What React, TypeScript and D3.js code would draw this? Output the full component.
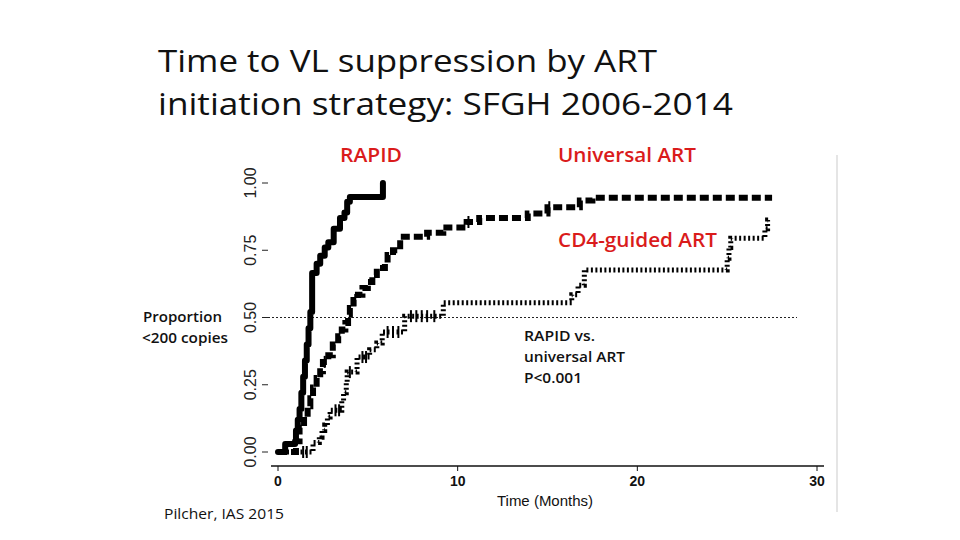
import React from "react";
import * as d3 from "d3";

// ---- data (time in months, cumulative proportion suppressed) ----
const rapidSteps: [number, number][] = [
  [0, 0], [0.4, 0.03], [0.95, 0.04], [1.0, 0.08], [1.1, 0.12], [1.2, 0.16], [1.3, 0.22],
  [1.4, 0.28], [1.5, 0.34], [1.6, 0.4], [1.7, 0.46], [1.8, 0.52], [1.9, 0.665],
  [2.15, 0.7], [2.35, 0.73], [2.6, 0.76], [2.8, 0.78], [3.1, 0.83], [3.45, 0.87],
  [3.7, 0.89], [3.85, 0.93], [4.0, 0.948], [5.84, 1.0],
];
const rapidEnd = 5.84;

const universalSteps: [number, number][] = [
  [0, 0], [1.0, 0.04], [1.2, 0.09], [1.45, 0.13], [1.65, 0.17], [1.8, 0.2], [1.95, 0.24],
  [2.15, 0.275], [2.35, 0.3], [2.5, 0.335], [2.8, 0.36], [3.05, 0.4], [3.35, 0.43],
  [3.55, 0.455], [3.75, 0.48], [3.9, 0.51], [4.0, 0.535], [4.2, 0.565], [4.45, 0.585],
  [4.7, 0.61], [5.0, 0.632], [5.25, 0.658], [5.5, 0.684], [5.95, 0.703], [6.1, 0.732],
  [6.4, 0.75], [6.8, 0.8], [8.3, 0.815], [9.2, 0.835], [10.5, 0.855], [11.2, 0.87],
  [13.9, 0.887], [15.0, 0.91], [16.8, 0.935], [17.5, 0.945],
];
const universalEnd = 27.5;

const cd4Steps: [number, number][] = [
  [0, 0], [1.95, 0.035], [2.3, 0.055], [2.45, 0.08], [2.6, 0.1], [2.75, 0.13], [2.9, 0.155],
  [3.55, 0.19], [3.65, 0.22], [3.8, 0.26], [3.85, 0.297], [4.4, 0.353], [5.1, 0.38],
  [5.5, 0.405], [5.8, 0.446], [7.05, 0.505], [9.2, 0.555], [16.35, 0.585], [16.7, 0.62],
  [17.05, 0.677], [25.0, 0.72], [25.1, 0.76], [25.2, 0.795], [27.1, 0.83], [27.25, 0.862],
];
const cd4End = 27.4;

const universalCensor = [2.6, 4.3, 10.6, 15.1];
const cd4Censor = [1.4, 1.6, 3.2, 3.4, 4.0, 4.7, 4.9, 6.1, 6.4, 6.7, 7.4, 7.7, 8.0, 8.3, 8.7];

const xTicks = [0, 10, 20, 30];
const xTickLabels = ["0", "10", "20", "30"];
const yTicks = [0, 0.25, 0.5, 0.75, 1];
const yTickLabels = ["0.00", "0.25", "0.50", "0.75", "1.00"];

const titleLines = ["Time to VL suppression by ART", "initiation strategy: SFGH 2006-2014"];

function valueAt(steps: [number, number][], t: number) {
  let v = 0;
  for (const s of steps) if (s[0] <= t) v = s[1];
  return v;
}

function withEnd(steps: [number, number][], end: number): [number, number][] {
  const last = steps[steps.length - 1];
  return end > last[0] ? [...steps, [end, last[1]]] : steps;
}

export default function App() {
  const x = d3.scaleLinear().domain([0, 30]).range([278, 817]);
  const y = d3.scaleLinear().domain([0, 1]).range([452, 183]);
  const line = d3
    .line<[number, number]>()
    .x((d) => x(d[0]))
    .y((d) => y(d[1]))
    .curve(d3.curveStepAfter);

  const red = "#DA1B1B";
  const axisFont = "'Liberation Sans', Arial, sans-serif";
  const textFont = "'Open Sans', 'Noto Sans', sans-serif";

  return (
    <svg
      width={960}
      height={540}
      style={{ position: "absolute", left: 0, top: 0, background: "#fff" }}
    >
      <rect x={0} y={0} width={960} height={540} fill="#fff" />
      {/* title */}
      <text x={158} y={72} fontFamily={textFont} fontSize={31} fill="#111" textLength={499} lengthAdjust="spacingAndGlyphs">
        {titleLines[0]}
      </text>
      <text x={158} y={115} fontFamily={textFont} fontSize={31} fill="#111" textLength={575} lengthAdjust="spacingAndGlyphs">
        {titleLines[1]}
      </text>

      {/* light frame line on right */}
      <line x1={837} x2={837} y1={155} y2={512} stroke="#dcdcdc" strokeWidth={1.5} />

      {/* reference line at 0.5 */}
      <line x1={268} x2={797} y1={y(0.5)} y2={y(0.5)} stroke="#222" strokeWidth={1} strokeDasharray="2,2" />

      {/* y ticks */}
      {yTicks.map((t, i) => (
        <g key={t}>
          <line x1={262} x2={268} y1={y(t)} y2={y(t)} stroke="#222" strokeWidth={1} />
          <text
            transform={`translate(256,${y(t)}) rotate(-90)`}
            textAnchor="middle"
            fontFamily={axisFont}
            fontSize={16}
            fill="#222"
          >
            {yTickLabels[i]}
          </text>
        </g>
      ))}

      {/* x axis */}
      <line x1={271} x2={824} y1={466} y2={466} stroke="#111" strokeWidth={1.5} />
      {xTicks.map((t, i) => (
        <g key={t}>
          <line x1={x(t)} x2={x(t)} y1={466} y2={471} stroke="#111" strokeWidth={1} />
          <text x={x(t)} y={486} textAnchor="middle" fontFamily={axisFont} fontSize={14} fontWeight="bold" fill="#111">
            {xTickLabels[i]}
          </text>
        </g>
      ))}
      <text x={545} y={506} textAnchor="middle" fontFamily={axisFont} fontSize={15} fill="#111">
        Time (Months)
      </text>

      {/* curves */}
      <path d={line(withEnd(cd4Steps, cd4End)) || ""} fill="none" stroke="#000" strokeWidth={5} strokeDasharray="2,2.5" />
      <path d={line(withEnd(universalSteps, universalEnd)) || ""} fill="none" stroke="#000" strokeWidth={6} strokeDasharray="9,4" />
      <path d={line(withEnd(rapidSteps, rapidEnd)) || ""} fill="none" stroke="#000" strokeWidth={6} strokeLinejoin="round" strokeLinecap="round" />

      {/* censor marks */}
      {universalCensor.map((t, i) => (
        <line key={"u" + i} x1={x(t)} x2={x(t)} y1={y(valueAt(universalSteps, t)) - 6} y2={y(valueAt(universalSteps, t)) + 6} stroke="#000" strokeWidth={2} />
      ))}
      {cd4Censor.map((t, i) => (
        <line key={"c" + i} x1={x(t)} x2={x(t)} y1={y(valueAt(cd4Steps, t)) - 6} y2={y(valueAt(cd4Steps, t)) + 6} stroke="#000" strokeWidth={2} />
      ))}

      {/* group labels */}
      <text x={340} y={162} fontFamily={textFont} fontSize={20} fontWeight={600} fill={red} textLength={62} lengthAdjust="spacingAndGlyphs">RAPID</text>
      <text x={558} y={162} fontFamily={textFont} fontSize={20} fontWeight={600} fill={red} textLength={138} lengthAdjust="spacingAndGlyphs">Universal ART</text>
      <text x={558} y={247} fontFamily={textFont} fontSize={20} fontWeight={600} fill={red} textLength={159} lengthAdjust="spacingAndGlyphs">CD4-guided ART</text>

      {/* y label */}
      <text x={143} y={322} fontFamily={textFont} fontSize={15} fontWeight={600} fill="#111" textLength={79} lengthAdjust="spacingAndGlyphs">Proportion</text>
      <text x={142} y={343} fontFamily={textFont} fontSize={15} fontWeight={600} fill="#111" textLength={86} lengthAdjust="spacingAndGlyphs">&lt;200 copies</text>

      {/* p-value annotation */}
      <text x={524} y={341} fontFamily={textFont} fontSize={15} fontWeight={600} fill="#111" textLength={71} lengthAdjust="spacingAndGlyphs">RAPID vs.</text>
      <text x={524} y={362} fontFamily={textFont} fontSize={15} fontWeight={600} fill="#111" textLength={101} lengthAdjust="spacingAndGlyphs">universal ART</text>
      <text x={524} y={383} fontFamily={textFont} fontSize={15} fontWeight={600} fill="#111" textLength={58} lengthAdjust="spacingAndGlyphs">P&lt;0.001</text>

      {/* source */}
      <text x={164} y={519} fontFamily={textFont} fontSize={15} fill="#111" textLength={120} lengthAdjust="spacingAndGlyphs">Pilcher, IAS 2015</text>
    </svg>
  );
}
